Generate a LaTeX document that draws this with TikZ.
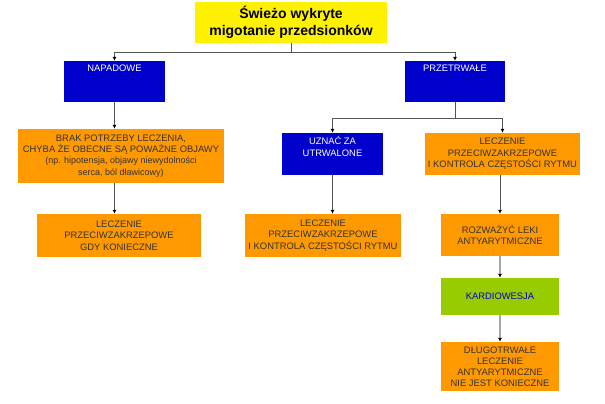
\documentclass[tikz,border=0pt]{standalone}
\usepackage{fontspec}
\setmainfont{Liberation Sans}
\usetikzlibrary{arrows.meta}
\definecolor{boxblue}{HTML}{0000CC}
\definecolor{boxorange}{HTML}{FF9900}
\definecolor{boxgreen}{HTML}{99CC00}
\definecolor{linegray}{HTML}{555555}
\tikzset{
  box/.style={draw=none, align=center, inner sep=1pt, font=\fontsize{9.4}{11.5}\selectfont},
  bluebox/.style={box, fill=boxblue, text=white, minimum height=41pt},
  orangebox/.style={box, fill=boxorange, text=black!80},
  conn/.style={draw=linegray, line width=0.8pt},
  arr/.style={conn, -{Latex[length=4pt,width=4pt,color=black]}}
}
\begin{document}
\begin{tikzpicture}[x=1pt, y=-1pt]
\useasboundingbox (0,0) rectangle (605,404);

\node[box, fill=yellow, minimum width=192pt, minimum height=41pt, font=\bfseries\fontsize{14}{17}\selectfont, text=black] (title) at (291,22.5) {Świeżo wykryte\\migotanie przedsionków};

\node[bluebox, minimum width=101pt, text height=7pt, text depth=26pt] (napadowe) at (114.5,81.5) {NAPADOWE};
\node[bluebox, minimum width=100pt, text height=7pt, text depth=26pt] (przetrwale) at (455,81.5) {PRZETRWAŁE};

\node[orangebox, minimum width=206pt, minimum height=54pt, font=\fontsize{9.4}{11.3}\selectfont] (brak) at (121,156) {BRAK POTRZEBY LECZENIA,\\CHYBA ŻE OBECNE SĄ POWAŻNE OBJAWY\\{\fontsize{9}{11.3}\selectfont (np. hipotensja, objawy niewydolności}\\{\fontsize{9}{11.3}\selectfont serca, ból dławicowy)}};
\node[bluebox, minimum width=101pt, minimum height=42pt] (uznac) at (332.5,154) {UZNAĆ ZA\\UTRWALONE\\[4pt]};
\node[orangebox, minimum width=155pt, minimum height=42pt] (kontrola) at (502.5,154) {LECZENIE\\PRZECIWZAKRZEPOWE\\I KONTROLA CZĘSTOŚCI RYTMU};

\node[orangebox, minimum width=164pt, minimum height=43pt] (gdy) at (119,235.5) {LECZENIE\\PRZECIWZAKRZEPOWE\\GDY KONIECZNE};
\node[orangebox, minimum width=156pt, minimum height=43pt] (leczenie) at (323,235.5) {LECZENIE\\PRZECIWZAKRZEPOWE\\I KONTROLA CZĘSTOŚCI RYTMU};
\node[orangebox, minimum width=118pt, minimum height=42pt] (rozwaz) at (500,235) {ROZWAŻYĆ LEKI\\ANTYARYTMICZNE};
\node[box, fill=boxgreen, text=boxblue, minimum width=118pt, minimum height=37pt] (kardio) at (500,296.5) {KARDIOWESJA};
\node[orangebox, minimum width=118pt, minimum height=49pt, font=\fontsize{9.4}{11}\selectfont] (dlugo) at (500,366.5) {DŁUGOTRWAŁE\\LECZENIE\\ANTYARYTMICZNE\\NIE JEST KONIECZNE};

\coordinate (split) at (291,52);
\coordinate (split2) at (455,118);

\draw[conn] (title) -- (split);
\draw[arr] (split) -| (napadowe);
\draw[arr] (split) -| (przetrwale);
\draw[arr] (napadowe) -- (napadowe |- brak.north);
\draw[arr] (napadowe |- brak.south) -- (napadowe |- gdy.north);

\draw[conn] (przetrwale) -- (split2);
\draw[arr] (split2) -| (uznac);
\draw[arr] (split2) -| (kontrola);
\draw[arr] (uznac.south) -- (uznac.south |- leczenie.north);
\draw[arr] (kontrola.south -| rozwaz) -- (rozwaz);
\draw[arr, draw=gray!70, line width=1.2pt] (rozwaz) -- (kardio);
\draw[arr, draw=gray!70, line width=1.2pt] (kardio) -- (dlugo);
\end{tikzpicture}
\end{document}
